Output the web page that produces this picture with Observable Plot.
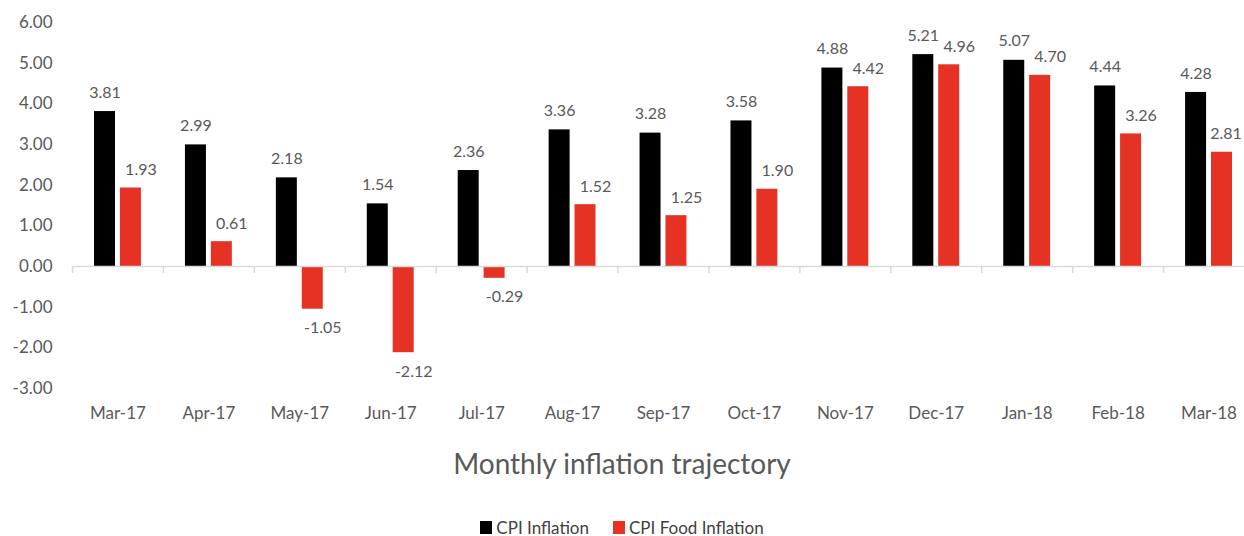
<!DOCTYPE html>
<html>
<head>
<meta charset="utf-8">
<script src="https://cdn.jsdelivr.net/npm/d3@7"></script>
<script src="https://cdn.jsdelivr.net/npm/@observablehq/plot@0.6"></script>
<style>
  html, body { margin: 0; padding: 0; background: #fff; }
  #wrap { width: 1244px; font-family: Lato, "Liberation Sans", sans-serif; color: #595959; }
  #title { text-align: center; font-size: 28px; height: 66px; line-height: 66px; color: #595959; }
  #legend { display: flex; justify-content: center; align-items: center; font-size: 17px; height: 40px; margin-top: 11px; color: #404040; }
  .item { display: flex; align-items: center; margin: 0 12px; }
  .sw { width: 12px; height: 13px; margin-right: 4px; }
</style>
</head>
<body>
<div id="wrap">
  <div id="chart"></div>
  <div id="title">Monthly inflation trajectory</div>
  <div id="legend"></div>
</div>
<script>
const months = ["Mar-17","Apr-17","May-17","Jun-17","Jul-17","Aug-17","Sep-17","Oct-17","Nov-17","Dec-17","Jan-18","Feb-18","Mar-18"];
const cpiInflation = [3.81,2.99,2.18,1.54,2.36,3.36,3.28,3.58,4.88,5.21,5.07,4.44,4.28];
const cpiFoodInflation = [1.93,0.61,-1.05,-2.12,-0.29,1.52,1.25,1.90,4.42,4.96,4.70,3.26,2.81];
const seriesNames = ["CPI Inflation", "CPI Food Inflation"];
const seriesColors = ["#000000", "#e53224"];
const yTicks = [-3,-2,-1,0,1,2,3,4,5,6];

const data = [];
months.forEach((m, i) => {
  data.push({month: m, series: seriesNames[0], value: cpiInflation[i]});
  data.push({month: m, series: seriesNames[1], value: cpiFoodInflation[i]});
});

const locale = d3.formatLocale({decimal: ".", thousands: ",", grouping: [3], currency: ["", ""], minus: "-"});
const fmt = locale.format(".2f");
const labelFont = {fontSize: 16, fill: "#595959"};
const lastMonth = months[months.length - 1];

const chart = Plot.plot({
  width: 1244,
  height: 430,
  marginLeft: 72,
  marginRight: -10,
  marginTop: 22,
  marginBottom: 42,
  style: {fontFamily: "Lato, 'Liberation Sans', sans-serif", background: "#fff"},
  fx: {domain: months, padding: 0, round: false, axis: null, label: null},
  x: {domain: seriesNames, paddingInner: 0.19, paddingOuter: 0.85, round: false, axis: null, label: null},
  y: {domain: [-3, 6], axis: null, label: null},
  color: {domain: seriesNames, range: seriesColors},
  marks: [
    Plot.axisY({ticks: yTicks, tickFormat: fmt, tickSize: 0, tickPadding: 20, fontSize: 17, fill: "#595959", label: null}),
    Plot.axisFx({anchor: "bottom", tickSize: 0, tickPadding: 18, fontSize: 17, fill: "#595959", label: null}),
    Plot.barY(data, {fx: "month", x: "series", y: "value", fill: "series"}),
    Plot.ruleY([0], {stroke: "#d9d9d9", strokeWidth: 1.5}),
    Plot.ruleX(months, {fx: d => d, x: () => seriesNames[0], y1: 0, y2: -0.17, dx: -32.5, stroke: "#d9d9d9", strokeWidth: 1.5}),
    Plot.text(data.filter(d => d.series === seriesNames[0]), {fx: "month", x: "series", y: "value", text: d => fmt(d.value), dy: -19, ...labelFont}),
    Plot.text(data.filter(d => d.series === seriesNames[1] && d.value >= 0 && d.month !== lastMonth), {fx: "month", x: "series", y: "value", text: d => fmt(d.value), dy: -18, dx: 10, ...labelFont}),
    Plot.text(data.filter(d => d.series === seriesNames[1] && d.value >= 0 && d.month === lastMonth), {fx: "month", x: "series", y: "value", text: d => fmt(d.value), dy: -18, dx: 4, ...labelFont}),
    Plot.text(data.filter(d => d.series === seriesNames[1] && d.value < 0), {fx: "month", x: "series", y: "value", text: d => fmt(d.value), dy: 19, dx: 10, ...labelFont})
  ]
});
document.getElementById("chart").appendChild(chart);

const legend = document.getElementById("legend");
seriesNames.forEach((s, i) => {
  const it = document.createElement("div");
  it.className = "item";
  const sw = document.createElement("div");
  sw.className = "sw";
  sw.style.background = seriesColors[i];
  const tx = document.createElement("span");
  tx.textContent = s;
  it.appendChild(sw); it.appendChild(tx);
  legend.appendChild(it);
});
</script>
</body>
</html>
